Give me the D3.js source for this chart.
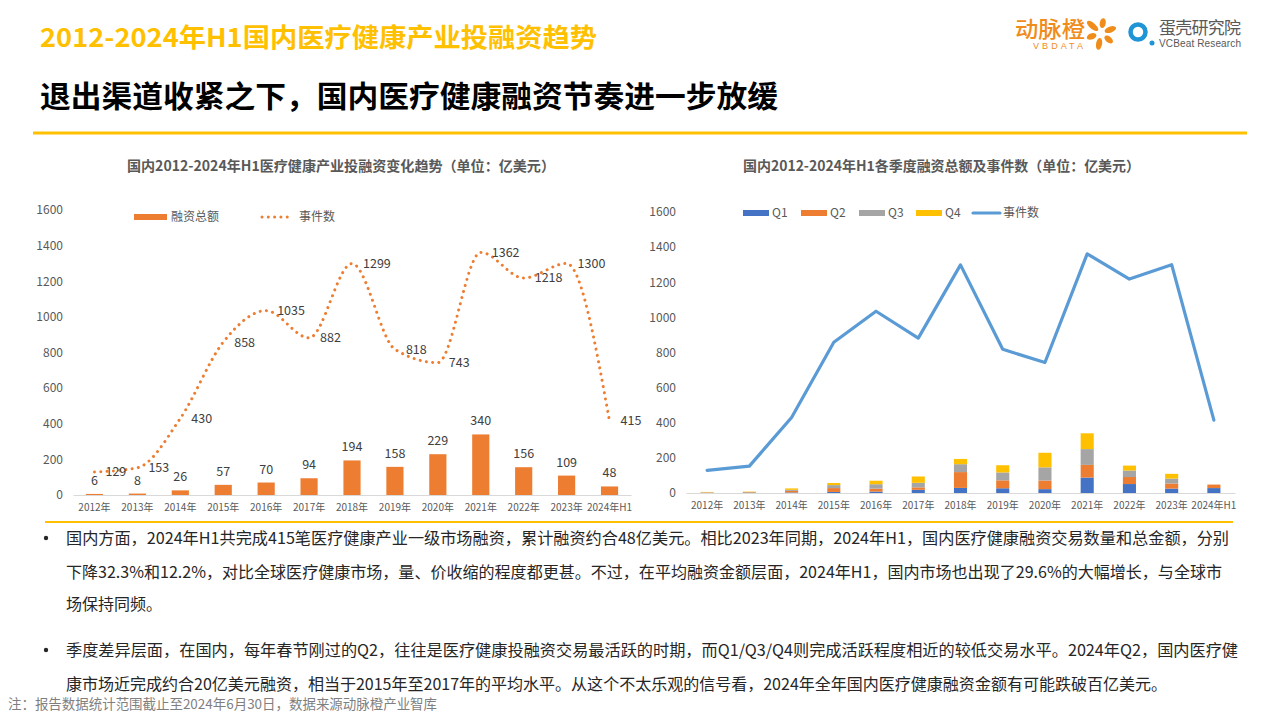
<!DOCTYPE html>
<html>
<head>
<meta charset="utf-8">
<script src="https://cdn.jsdelivr.net/npm/d3@7"></script>
<style>
  html, body { margin: 0; padding: 0; background: #ffffff; }
  svg { display: block; font-family: "Noto Sans CJK SC", "Noto Sans", sans-serif; }
</style>
</head>
<body>
<svg id="chart" width="1280" height="720"></svg>
<script>
// ---------------- DATA ----------------
const years = ["2012年","2013年","2014年","2015年","2016年","2017年","2018年","2019年","2020年","2021年","2022年","2023年","2024年H1"];
const totalFunding = [6, 8, 26, 57, 70, 94, 194, 158, 229, 340, 156, 109, 48];
const eventCount = [129, 153, 430, 858, 1035, 882, 1299, 818, 743, 1362, 1218, 1300, 415];
const q1 = [1, 2, 3, 6, 8, 18, 29, 27, 22, 88, 51, 25, 28];
const q2 = [2, 3, 9, 22, 17, 14, 90, 45, 49, 72, 40, 29, 20];
const q3 = [1, 1, 6, 17, 25, 26, 45, 45, 75, 90, 37, 28, 0];
const q4 = [2, 2, 8, 12, 20, 36, 30, 41, 83, 90, 28, 27, 0];
const yTicks = [0, 200, 400, 600, 800, 1000, 1200, 1400, 1600];
const quarterNames = ["Q1", "Q2", "Q3", "Q4"];

const pageTitle = "2012-2024年H1国内医疗健康产业投融资趋势";
const pageSubtitle = "退出渠道收紧之下，国内医疗健康融资节奏进一步放缓";
const leftTitle = "国内2012-2024年H1医疗健康产业投融资变化趋势（单位：亿美元）";
const rightTitle = "国内2012-2024年H1各季度融资总额及事件数（单位：亿美元）";
const para1 = [
  "国内方面，2024年H1共完成415笔医疗健康产业一级市场融资，累计融资约合48亿美元。相比2023年同期，2024年H1，国内医疗健康融资交易数量和总金额，分别",
  "下降32.3%和12.2%，对比全球医疗健康市场，量、价收缩的程度都更甚。不过，在平均融资金额层面，2024年H1，国内市场也出现了29.6%的大幅增长，与全球市",
  "场保持同频。"
];
const para2 = [
  "季度差异层面，在国内，每年春节刚过的Q2，往往是医疗健康投融资交易最活跃的时期，而Q1/Q3/Q4则完成活跃程度相近的较低交易水平。2024年Q2，国内医疗健",
  "康市场近完成约合20亿美元融资，相当于2015年至2017年的平均水平。从这个不太乐观的信号看，2024年全年国内医疗健康融资金额有可能跌破百亿美元。"
];
const noteText = "注：报告数据统计范围截止至2024年6月30日，数据来源动脉橙产业智库";

// ---------------- STYLE ----------------
const ORANGE = "#ED7D31", BLUE = "#4472C4", GRAY = "#A5A5A5", GOLD = "#FFC000", LINEBLUE = "#5B9BD5";
const qColors = [BLUE, ORANGE, GRAY, GOLD];
const AXIS_TXT = "#595959", LABEL_TXT = "#404040";
const fmt = d3.format("d");

const svg = d3.select("#chart");
svg.append("rect").attr("width", 1280).attr("height", 720).attr("fill", "#fff");

// ---------------- HEADER ----------------
svg.append("text").attr("x", 40).attr("y", 47).attr("font-size", 26).attr("font-weight", 700)
  .attr("fill", "#FFC000").attr("textLength", 557).attr("lengthAdjust", "spacingAndGlyphs").text(pageTitle);
svg.append("text").attr("x", 40).attr("y", 107).attr("font-size", 30).attr("font-weight", 700)
  .attr("fill", "#000").attr("textLength", 738).attr("lengthAdjust", "spacingAndGlyphs").text(pageSubtitle);
svg.append("line").attr("x1", 33).attr("x2", 1247).attr("y1", 133).attr("y2", 133)
  .attr("stroke", "#FFC000").attr("stroke-width", 3);

// logos
const logo = svg.append("g");
logo.append("text").attr("x", 1015).attr("y", 37).attr("font-size", 22).attr("font-weight", 500).attr("fill", "#F08C1A")
  .attr("textLength", 70).attr("lengthAdjust", "spacingAndGlyphs").text("动脉橙");
logo.append("text").attr("x", 1033).attr("y", 48.5).attr("font-size", 9).attr("fill", "#F08C1A")
  .attr("textLength", 50).attr("font-family", "Liberation Sans, sans-serif").text("VBDATA");
const petals = [[-140, 11, 7], [-80, 10, 5], [-20, 10, 6], [40, 10, 5], [100, 11, 6], [160, 10, 5]];
petals.forEach(([a, r, l]) => {
  const rad = a * Math.PI / 180;
  logo.append("ellipse").attr("cx", 1101 + r * Math.cos(rad)).attr("cy", 33 + r * Math.sin(rad))
    .attr("rx", l).attr("ry", 3).attr("fill", "#F08C1A")
    .attr("transform", `rotate(${a},${1101 + r * Math.cos(rad)},${33 + r * Math.sin(rad)})`);
});
logo.append("circle").attr("cx", 1138).attr("cy", 32).attr("r", 7.5).attr("fill", "none")
  .attr("stroke", "#1F95D6").attr("stroke-width", 4.5);
logo.append("circle").attr("cx", 1152).attr("cy", 43).attr("r", 2.5).attr("fill", "#1F95D6");
logo.append("text").attr("x", 1159).attr("y", 34).attr("font-size", 17).attr("fill", "#595959")
  .attr("textLength", 82).text("蛋壳研究院");
logo.append("text").attr("x", 1159).attr("y", 47).attr("font-size", 10).attr("fill", "#595959")
  .attr("textLength", 82).attr("font-family", "Liberation Sans, sans-serif").text("VCBeat Research");

// ---------------- LEFT CHART ----------------
const L = svg.append("g");
L.append("text").attr("x", 127).attr("y", 171).attr("font-size", 14).attr("font-weight", 700)
  .attr("fill", AXIS_TXT).attr("textLength", 428).attr("lengthAdjust", "spacingAndGlyphs").text(leftTitle);

const xL = d3.scaleBand().domain(years).range([73, 631]).paddingInner(0.6).paddingOuter(0.3);
const yL = d3.scaleLinear().domain([0, 1600]).range([495, 210]);

const yAxisL = L.append("g").attr("transform", "translate(66,0)")
  .call(d3.axisLeft(yL).tickValues(yTicks).tickFormat(fmt).tickSize(0).tickPadding(3));
yAxisL.select(".domain").remove();
yAxisL.selectAll("text").attr("font-size", 12).attr("fill", AXIS_TXT).attr("font-family", "Noto Sans CJK SC");

const xAxisL = L.append("g").attr("transform", "translate(0,495)")
  .call(d3.axisBottom(xL).tickSize(0).tickPadding(9));
xAxisL.select(".domain").attr("stroke", "#D9D9D9");
xAxisL.selectAll("text").attr("font-size", 10).attr("fill", AXIS_TXT).attr("font-family", "Noto Sans CJK SC");

L.selectAll("rect.bar").data(totalFunding).join("rect").attr("class", "bar")
  .attr("x", (d, i) => xL(years[i])).attr("width", xL.bandwidth())
  .attr("y", d => yL(d)).attr("height", d => yL(0) - yL(d)).attr("fill", ORANGE);
L.selectAll("text.barlab").data(totalFunding).join("text").attr("class", "barlab")
  .attr("x", (d, i) => xL(years[i]) + xL.bandwidth() / 2).attr("y", d => yL(d) - 9)
  .attr("text-anchor", "middle").attr("font-size", 12.5).attr("fill", LABEL_TXT).text(d => d);

const cx = i => xL(years[i]) + xL.bandwidth() / 2;
const lineL = d3.line().x((d, i) => cx(i)).y(d => yL(d)).curve(d3.curveMonotoneX);
L.append("path").datum(eventCount).attr("d", lineL).attr("fill", "none").attr("stroke", ORANGE)
  .attr("stroke-width", 3).attr("stroke-linecap", "round").attr("stroke-dasharray", "0.01 6.3");
L.selectAll("text.linelab").data(eventCount).join("text").attr("class", "linelab")
  .attr("x", (d, i) => cx(i) + 11).attr("y", d => yL(d)).attr("dy", "0.35em")
  .attr("font-size", 12.5).attr("fill", LABEL_TXT).text(d => d);

// left legend
L.append("rect").attr("x", 134).attr("y", 214).attr("width", 33).attr("height", 6).attr("fill", ORANGE);
L.append("text").attr("x", 171).attr("y", 217).attr("dy", "0.35em").attr("font-size", 12).attr("fill", AXIS_TXT).text("融资总额");
L.append("line").attr("x1", 262).attr("x2", 293).attr("y1", 217).attr("y2", 217).attr("stroke", ORANGE)
  .attr("stroke-width", 3).attr("stroke-linecap", "round").attr("stroke-dasharray", "0.01 6.3");
L.append("text").attr("x", 299).attr("y", 217).attr("dy", "0.35em").attr("font-size", 12).attr("fill", AXIS_TXT).text("事件数");

// ---------------- RIGHT CHART ----------------
const R = svg.append("g");
R.append("text").attr("x", 743).attr("y", 171).attr("font-size", 14).attr("font-weight", 700)
  .attr("fill", AXIS_TXT).attr("textLength", 397).attr("lengthAdjust", "spacingAndGlyphs").text(rightTitle);

const xR = d3.scaleBand().domain(years).range([686, 1235]).paddingInner(0.69).paddingOuter(0.345);
const yR = d3.scaleLinear().domain([0, 1600]).range([493, 212]);

const yAxisR = R.append("g").attr("transform", "translate(679,0)")
  .call(d3.axisLeft(yR).tickValues(yTicks).tickFormat(fmt).tickSize(0).tickPadding(3));
yAxisR.select(".domain").remove();
yAxisR.selectAll("text").attr("font-size", 12).attr("fill", AXIS_TXT).attr("font-family", "Noto Sans CJK SC");

const xAxisR = R.append("g").attr("transform", "translate(0,493)")
  .call(d3.axisBottom(xR).tickSize(0).tickPadding(9));
xAxisR.select(".domain").attr("stroke", "#D9D9D9");
xAxisR.selectAll("text").attr("font-size", 10).attr("fill", AXIS_TXT).attr("font-family", "Noto Sans CJK SC");

const stackRows = years.map((y, i) => ({ year: y, Q1: q1[i], Q2: q2[i], Q3: q3[i], Q4: q4[i] }));
const stacked = d3.stack().keys(quarterNames)(stackRows);
R.selectAll("g.layer").data(stacked).join("g").attr("class", "layer")
  .attr("fill", (d, k) => qColors[k])
  .selectAll("rect").data(d => d).join("rect")
  .attr("x", d => xR(d.data.year)).attr("width", xR.bandwidth())
  .attr("y", d => yR(d[1])).attr("height", d => yR(d[0]) - yR(d[1]));

const lineR = d3.line().x((d, i) => xR(years[i]) + xR.bandwidth() / 2).y(d => yR(d));
R.append("path").datum(eventCount).attr("d", lineR).attr("fill", "none").attr("stroke", LINEBLUE)
  .attr("stroke-width", 3.2).attr("stroke-linejoin", "round").attr("stroke-linecap", "round");

// right legend
const legX = [743, 801, 859, 916];
quarterNames.forEach((q, k) => {
  R.append("rect").attr("x", legX[k]).attr("y", 210).attr("width", 26).attr("height", 6).attr("fill", qColors[k]);
  R.append("text").attr("x", legX[k] + 29).attr("y", 213).attr("dy", "0.35em").attr("font-size", 12)
    .attr("fill", AXIS_TXT).text(q);
});
R.append("line").attr("x1", 973).attr("x2", 1000).attr("y1", 213).attr("y2", 213).attr("stroke", LINEBLUE)
  .attr("stroke-width", 3.2).attr("stroke-linecap", "round");
R.append("text").attr("x", 1003).attr("y", 213).attr("dy", "0.35em").attr("font-size", 12).attr("fill", AXIS_TXT).text("事件数");

// ---------------- TEXT BLOCK ----------------
svg.append("line").attr("x1", 45).attr("x2", 1233).attr("y1", 522).attr("y2", 522)
  .attr("stroke", "#FFC000").attr("stroke-width", 2);

const TXT = "#262626";
const p1Y = [538, 572, 604], p1W = [1163, 1156, null];
const p2Y = [650, 684], p2W = [1172, 1101];
function addLines(lines, ys, ws) {
  lines.forEach((t, i) => {
    const el = svg.append("text").attr("x", 66).attr("y", ys[i]).attr("dy", "0.35em")
      .attr("font-size", 16).attr("fill", TXT).text(t);
    if (ws[i]) el.attr("textLength", ws[i]).attr("lengthAdjust", "spacingAndGlyphs");
  });
  svg.append("circle").attr("cx", 46).attr("cy", ys[0]).attr("r", 2.2).attr("fill", TXT);
}
addLines(para1, p1Y, p1W);
addLines(para2, p2Y, p2W);

svg.append("text").attr("x", 8).attr("y", 704).attr("dy", "0.35em").attr("font-size", 13.5)
  .attr("fill", "#7F7F7F").attr("textLength", 429).attr("lengthAdjust", "spacingAndGlyphs").text(noteText);
</script>
</body>
</html>
